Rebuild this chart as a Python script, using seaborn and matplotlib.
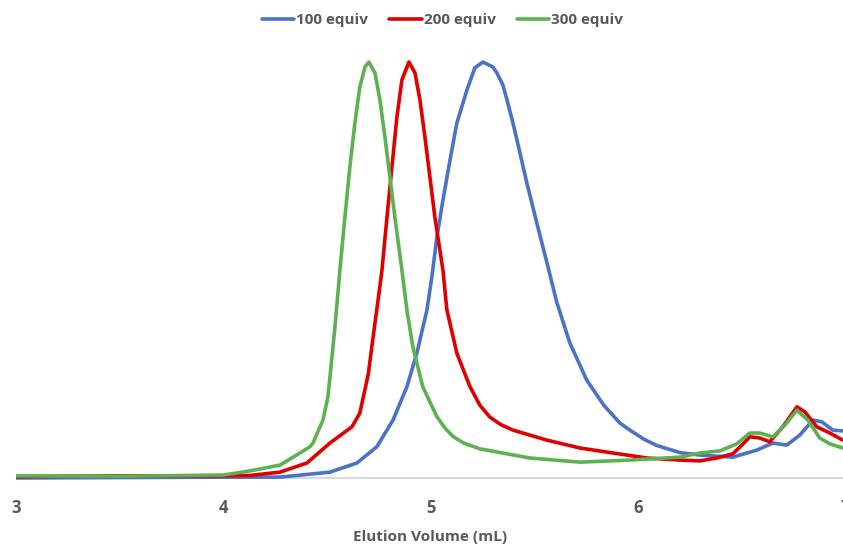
import pandas as pd
import matplotlib.pyplot as plt
import seaborn as sns

# GPC traces, normalised so each main peak = 100
vol_100 = [3.0, 3.5, 4.0, 4.274, 4.515, 4.645, 4.741, 4.819, 4.886, 4.934, 4.983, 5.007, 5.031,
           5.06, 5.094, 5.127, 5.176, 5.214, 5.253, 5.301, 5.32, 5.349, 5.369, 5.398, 5.417,
           5.465, 5.513, 5.562, 5.61, 5.672, 5.754, 5.836, 5.914, 5.962, 6.03, 6.092, 6.203, 6.30,
           6.459, 6.575, 6.652, 6.719, 6.782, 6.845, 6.888, 6.941, 6.989]
sig_100 = [0.0, 0.1, 0.2, 0.2, 1.4, 3.6, 7.5, 13.9, 21.9, 30.0, 40.4, 48.5, 57.9,
           66.8, 76.4, 85.3, 93.3, 98.6, 100.0, 98.8, 97.4, 94.5, 90.9, 85.3, 81.3,
           70.9, 61.3, 51.7, 42.1, 32.5, 23.5, 17.5, 13.2, 11.5, 9.3, 7.8, 6.1, 5.5,
           5.0, 6.7, 8.4, 7.9, 10.3, 13.9, 13.5, 11.5, 11.3]

vol_200 = [3.0, 3.5, 4.0, 4.129, 4.274, 4.404, 4.515, 4.621, 4.659, 4.70, 4.722, 4.745, 4.766,
           4.79, 4.814, 4.838, 4.862, 4.896, 4.925, 4.949, 4.973, 4.997, 5.021, 5.06, 5.079,
           5.127, 5.19, 5.238, 5.287, 5.34, 5.398, 5.561, 5.721, 5.88, 6.044, 6.203, 6.30, 6.381,
           6.459, 6.502, 6.541, 6.589, 6.637, 6.70, 6.768, 6.806, 6.864, 6.927, 6.989]
sig_200 = [0.3, 0.5, 0.5, 0.6, 1.4, 3.6, 8.4, 12.3, 15.6, 25.0, 33.5, 42.0, 50.0,
           62.7, 74.8, 86.8, 95.7, 100.0, 97.4, 90.9, 82.0, 72.4, 62.7, 50.0, 40.4,
           30.0, 22.0, 17.5, 14.6, 12.8, 11.5, 9.1, 7.2, 6.0, 4.8, 4.3, 4.1, 4.8,
           5.8, 7.9, 9.9, 9.6, 8.7, 12.3, 17.1, 15.9, 12.3, 10.8, 9.1]

vol_300 = [3.0, 3.5, 4.0, 4.129, 4.274, 4.37, 4.418, 4.433, 4.481, 4.505, 4.515, 4.539, 4.563,
           4.587, 4.611, 4.635, 4.659, 4.684, 4.703, 4.732, 4.756, 4.78, 4.804, 4.828, 4.862,
           4.886, 4.915, 4.963, 5.031, 5.07, 5.108, 5.16, 5.238, 5.479, 5.721, 5.962, 6.203, 6.30,
           6.396, 6.478, 6.541, 6.589, 6.652, 6.71, 6.768, 6.821, 6.878, 6.927, 6.989]
sig_300 = [0.5, 0.4, 0.7, 1.7, 3.1, 6.0, 7.5, 8.4, 13.9, 19.5, 24.3, 36.3, 50.0,
           62.7, 74.8, 85.3, 94.0, 98.8, 100.0, 97.4, 90.9, 82.0, 72.4, 62.7, 50.0,
           40.4, 31.5, 21.9, 14.7, 12.0, 10.0, 8.4, 7.0, 4.8, 3.8, 4.3, 5.0, 6.0,
           6.5, 8.2, 10.8, 10.8, 9.9, 12.7, 16.3, 13.9, 9.6, 8.2, 7.2]

labels = ['100 equiv', '200 equiv', '300 equiv']
colors = ['#4A72C6', '#E00000', '#5DB152']
xticks = [3, 4, 5, 6, 7]

df = pd.concat([
    pd.DataFrame({'vol': vol_100, 'signal': sig_100, 'sample': labels[0]}),
    pd.DataFrame({'vol': vol_200, 'signal': sig_200, 'sample': labels[1]}),
    pd.DataFrame({'vol': vol_300, 'signal': sig_300, 'sample': labels[2]}),
])

sns.set_style('white')
plt.rcParams['font.family'] = ['Open Sans', 'DejaVu Sans']

fig = plt.figure(figsize=(8.43, 5.46), dpi=100)
ax = fig.add_axes([16 / 843, 0.1132, 829 / 843, 0.8319])

sns.lineplot(data=df, x='vol', y='signal', hue='sample', hue_order=labels,
             palette=colors, sort=False, linewidth=2.6, ax=ax)
for ln in ax.lines:
    ln.set_solid_joinstyle('round')
    ln.set_solid_capstyle('round')

ax.axhline(0, color='#D9D9D9', lw=1.5, zorder=0)
ax.set_xlim(3, 7)
ax.set_ylim(-1.5, 107.7)
ax.set_xticks(xticks)
ax.set_xticklabels([str(t) for t in xticks])
ax.set_yticks([])
ax.set_ylabel('')
for s in ax.spines.values():
    s.set_visible(False)
ax.tick_params(axis='x', length=0, pad=11, labelsize=12, labelcolor='#595959')
for t in ax.get_xticklabels():
    t.set_fontweight('bold')
ax.set_xlabel('Elution Volume (mL)', fontsize=11, fontweight='bold', color='#595959', labelpad=9)

ax.legend(loc='center', bbox_to_anchor=(0.525, 0.963), bbox_transform=fig.transFigure,
          ncol=3, frameon=False, handlelength=2.1, handletextpad=0.15, columnspacing=1.4,
          prop={'size': 11, 'weight': 'bold'}, labelcolor='#595959')

fig.savefig('out.png', dpi=100)
